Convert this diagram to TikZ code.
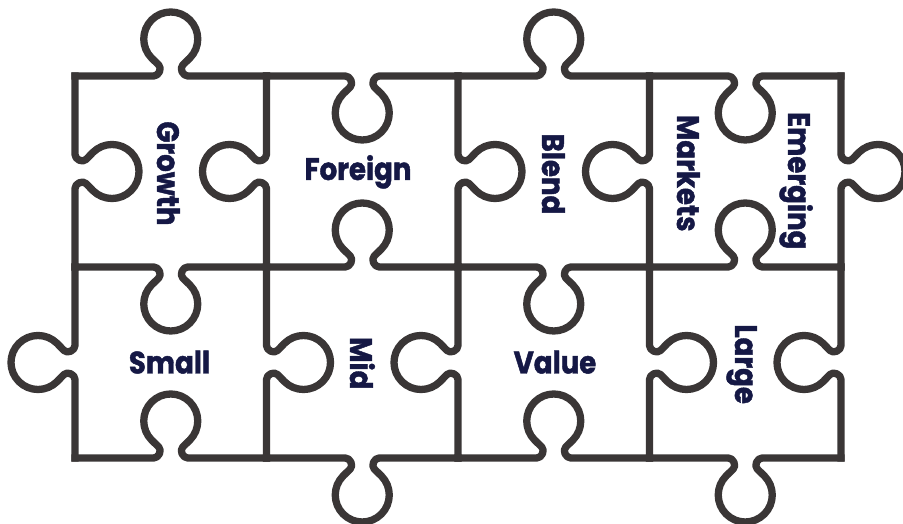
\documentclass[tikz,border=0pt]{standalone}
\usepackage{fontspec}
\setmainfont{Poppins}[BoldFeatures={FakeBold=1.5}]
\definecolor{edgegray}{HTML}{3A3636}
\definecolor{inknavy}{HTML}{151845}
\tikzset{
  puzzleline/.style={draw=edgegray, line width=7.3pt, line join=round, line cap=rect},
  pics/knob/.style={code={
    \draw[puzzleline] (-#1,0) -- (-17,0) .. controls (-12,0) and (-8.5,7.5) .. (-12,11)
      -- (-19.09,17.91) arc[start angle=225, end angle=-45, radius=27]
      -- (12,11) .. controls (8.5,7.5) and (12,0) .. (17,0) -- (#1,0);
  }},
  lbl/.style={text=inknavy, font=\fontsize{31}{36}\selectfont\bfseries, inner sep=0pt, xscale=0.89},
  vlbl/.style={rotate=-90, lbl, anchor=base},
}
\begin{document}
\begin{tikzpicture}[x=1pt,y=1pt]
\useasboundingbox (0,0) rectangle (903,524);
\fill[white] (0,0) rectangle (903,524);
\clip (0,0) rectangle (903,524);
% horizontal edges
\foreach \x/\r in {170.75/0, 362.25/180, 553.75/0, 745.25/180} \pic[rotate=\r] at (\x,448) {knob=95.75};
\foreach \x/\r in {170.75/180, 362.25/0, 553.75/180, 745.25/0} \pic[rotate=\r] at (\x,257) {knob=95.75};
\foreach \x/\r in {170.75/0, 362.25/180, 553.75/0, 745.25/180} \pic[rotate=\r] at (\x,66) {knob=95.75};
% vertical edges
\foreach \x/\r in {75/-90, 266.5/90, 458/-90, 649.5/90, 841/-90} \pic[rotate=\r] at (\x,352.5) {knob=95.5};
\foreach \x/\r in {75/90, 266.5/-90, 458/90, 649.5/-90, 841/90} \pic[rotate=\r] at (\x,161.5) {knob=95.5};
% labels
\node[vlbl] (growth) at (157,350.5) {Growth};
\node[lbl, anchor=base] (foreign) at (358,344) {Foreign};
\node[vlbl] (blend) at (542,350) {Blend};
\node[vlbl] (markets) at (677,350.7) {Markets};
\node[vlbl] (emerging) at (788,343.2) {Emerging};
\node[lbl, anchor=base] (small) at (169.5,150.5) {Small};
\node[vlbl] (mid) at (350,160.7) {Mid};
\node[lbl, anchor=base] (value) at (555,150.5) {Value};
\node[vlbl] (large) at (735,159.8) {Large};
\end{tikzpicture}
\end{document}
